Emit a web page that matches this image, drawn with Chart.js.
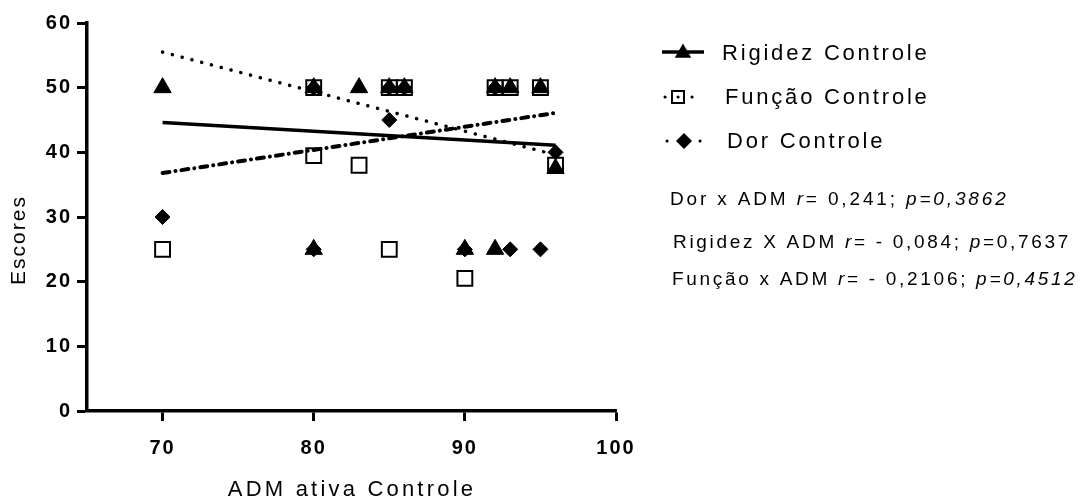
<!DOCTYPE html>
<html>
<head>
<meta charset="utf-8">
<title>Escores x ADM ativa Controle</title>
<script src="https://cdn.jsdelivr.net/npm/chart.js"></script>
<style>
    body { margin: 0; background: #fff; }
    #wrap { width: 1083px; height: 499px; }
</style>
</head>
<body>
<div id="wrap"><canvas id="scoreChart" width="1083" height="499"></canvas></div>
<script>
// Values
const rigidezX = [70, 80, 80, 83, 85, 86, 90, 92, 92, 93, 95, 96];
const rigidezY = [50, 50, 25, 50, 50, 50, 25, 50, 25, 50, 50, 37.5];
const funcaoX = [70, 80, 80, 83, 85, 85, 86, 90, 92, 93, 95, 96];
const funcaoY = [25, 50, 39.5, 38, 25, 50, 50, 20.5, 50, 50, 50, 38];
const dorX = [70, 80, 80, 85, 85, 86, 90, 92, 93, 95, 96];
const dorY = [30, 50, 25, 45, 50, 50, 25, 50, 25, 25, 40];

// Regression lines (end points)
const fitX = [70, 96];
const rigidezFit = [44.6, 41.1];
const funcaoFit = [55.5, 39.6];
const dorFit = [36.8, 46.1];

const xTicks = [70, 80, 90, 100];
const yTicks = [0, 10, 20, 30, 40, 50, 60];

const xTitle = 'ADM ativa Controle';
const yTitle = 'Escores';
const seriesNames = ['Rigidez Controle', 'Função Controle', 'Dor Controle'];
const statLines = [
    [['Dor x ADM ', false], ['r', true], ['= 0,241; ', false], ['p=0,3862', true]],
    [['Rigidez X ADM ', false], ['r', true], ['= - 0,084; ', false], ['p', true], ['=0,7637', false]],
    [['Função x ADM ', false], ['r', true], ['= - 0,2106; ', false], ['p=0,4512', true]]
];

const FONT = "'Liberation Sans', Arial, sans-serif";

function toPoints(xs, ys) {
    return xs.map((x, i) => ({x: x, y: ys[i]}));
}

function drawTriangle(ctx, x, y, r) {
    ctx.beginPath();
    ctx.moveTo(x, y - r);
    ctx.lineTo(x + r * 0.866, y + r * 0.5);
    ctx.lineTo(x - r * 0.866, y + r * 0.5);
    ctx.closePath();
    ctx.fill();
}

function drawRich(ctx, parts, x, y, size, spacing) {
    ctx.letterSpacing = spacing + 'px';
    let cx = x;
    parts.forEach(p => {
        ctx.font = (p[1] ? 'italic ' : '') + size + 'px ' + FONT;
        ctx.fillText(p[0], cx, y);
        cx += ctx.measureText(p[0]).width;
    });
}

const extrasPlugin = {
    id: 'extras',
    beforeDraw(chart) {
        chart.ctx.letterSpacing = '2px';
    },
    afterDraw(chart) {
        const ctx = chart.ctx;
        ctx.save();
        ctx.fillStyle = '#000';
        ctx.strokeStyle = '#000';
        ctx.textBaseline = 'alphabetic';
        ctx.textAlign = 'left';

        // axis titles
        ctx.save();
        ctx.translate(25, 240);
        ctx.rotate(-Math.PI / 2);
        ctx.letterSpacing = '2px';
        ctx.font = '21px ' + FONT;
        ctx.textAlign = 'center';
        ctx.fillText(yTitle, 0, 0);
        ctx.restore();

        ctx.save();
        ctx.letterSpacing = '3.2px';
        ctx.font = '22px ' + FONT;
        ctx.textAlign = 'center';
        ctx.fillText(xTitle, 352, 496);
        ctx.restore();

        // legend
        ctx.lineWidth = 3.5;
        ctx.beginPath();
        ctx.moveTo(662, 52);
        ctx.lineTo(704, 52);
        ctx.stroke();
        drawTriangle(ctx, 683, 53, 9.5);

        ctx.lineCap = 'round';
        ctx.lineWidth = 3;
        [[665, 97], [678, 97], [692, 97], [667, 141], [700, 141]].forEach(d => {
            ctx.beginPath();
            ctx.moveTo(d[0], d[1]);
            ctx.lineTo(d[0] + 0.1, d[1]);
            ctx.stroke();
        });
        ctx.lineWidth = 2;
        ctx.strokeRect(672, 91, 12, 12);
        ctx.beginPath();
        ctx.moveTo(684, 133);
        ctx.lineTo(692, 141);
        ctx.lineTo(684, 149);
        ctx.lineTo(676, 141);
        ctx.closePath();
        ctx.fill();

        ctx.font = '22px ' + FONT;
        ctx.letterSpacing = '2.8px';
        ctx.fillText(seriesNames[0], 722, 60);
        ctx.fillText(seriesNames[1], 725, 104);
        ctx.fillText(seriesNames[2], 727, 148);

        // correlation notes
        drawRich(ctx, statLines[0], 670, 205, 19, 2.85);
        drawRich(ctx, statLines[1], 673, 248, 19, 2.7);
        drawRich(ctx, statLines[2], 672, 285, 19, 2.7);
        ctx.restore();
    }
};

Chart.defaults.font.family = FONT;
Chart.defaults.color = '#000';

const ctx = document.getElementById('scoreChart').getContext('2d');
const scoreChart = new Chart(ctx, {
    type: 'scatter',
    data: {
        datasets: [
            {
                label: seriesNames[0],
                data: toPoints(rigidezX, rigidezY),
                pointStyle: 'triangle',
                pointRadius: 10,
                pointBackgroundColor: '#000',
                pointBorderColor: '#000',
                pointBorderWidth: 1,
                clip: false,
                order: 0
            },
            {
                label: seriesNames[1],
                data: toPoints(funcaoX, funcaoY),
                pointStyle: 'rect',
                pointRadius: 10.5,
                pointBackgroundColor: 'rgba(0,0,0,0)',
                pointBorderColor: '#000',
                pointBorderWidth: 2,
                clip: false,
                order: 0
            },
            {
                label: seriesNames[2],
                data: toPoints(dorX, dorY),
                pointStyle: 'rectRot',
                pointRadius: 7.5,
                pointBackgroundColor: '#000',
                pointBorderColor: '#000',
                pointBorderWidth: 1,
                clip: false,
                order: 0
            },
            {
                label: 'fit rigidez',
                data: toPoints(fitX, rigidezFit),
                showLine: true,
                pointRadius: 0,
                borderColor: '#000',
                borderWidth: 3.5,
                clip: false,
                order: 1
            },
            {
                label: 'fit funcao',
                data: toPoints(fitX, funcaoFit),
                showLine: true,
                pointRadius: 0,
                borderColor: '#000',
                borderWidth: 3.5,
                borderDash: [0.1, 10],
                borderCapStyle: 'round',
                clip: false,
                order: 1
            },
            {
                label: 'fit dor',
                data: toPoints(fitX, dorFit),
                showLine: true,
                pointRadius: 0,
                borderColor: '#000',
                borderWidth: 4,
                borderDash: [7, 6, 0.1, 6],
                borderCapStyle: 'round',
                clip: false,
                order: 1
            }
        ]
    },
    options: {
        responsive: false,
        animation: false,
        events: [],
        layout: {
            padding: {left: 0, top: 23, right: 467, bottom: 0}
        },
        plugins: {
            legend: {display: false},
            tooltip: {enabled: false}
        },
        scales: {
            x: {
                type: 'linear',
                min: 65,
                max: 100,
                afterBuildTicks: scale => { scale.ticks = xTicks.map(v => ({value: v})); },
                afterFit: scale => { scale.height = 88; },
                border: {display: true, color: '#000', width: 3.5},
                grid: {display: true, drawOnChartArea: false, drawTicks: true, tickLength: 10, tickWidth: 3, tickColor: '#000'},
                ticks: {font: {size: 20, weight: 'bold'}, padding: 15, maxRotation: 0}
            },
            y: {
                type: 'linear',
                min: 0,
                max: 60,
                afterBuildTicks: scale => { scale.ticks = yTicks.map(v => ({value: v})); },
                afterFit: scale => { scale.width = 87; },
                border: {display: true, color: '#000', width: 3.5},
                grid: {display: true, drawOnChartArea: false, drawTicks: true, tickLength: 10, tickWidth: 3, tickColor: '#000'},
                ticks: {font: {size: 20, weight: 'bold'}, padding: 5}
            }
        }
    },
    plugins: [extrasPlugin]
});
</script>
</body>
</html>
